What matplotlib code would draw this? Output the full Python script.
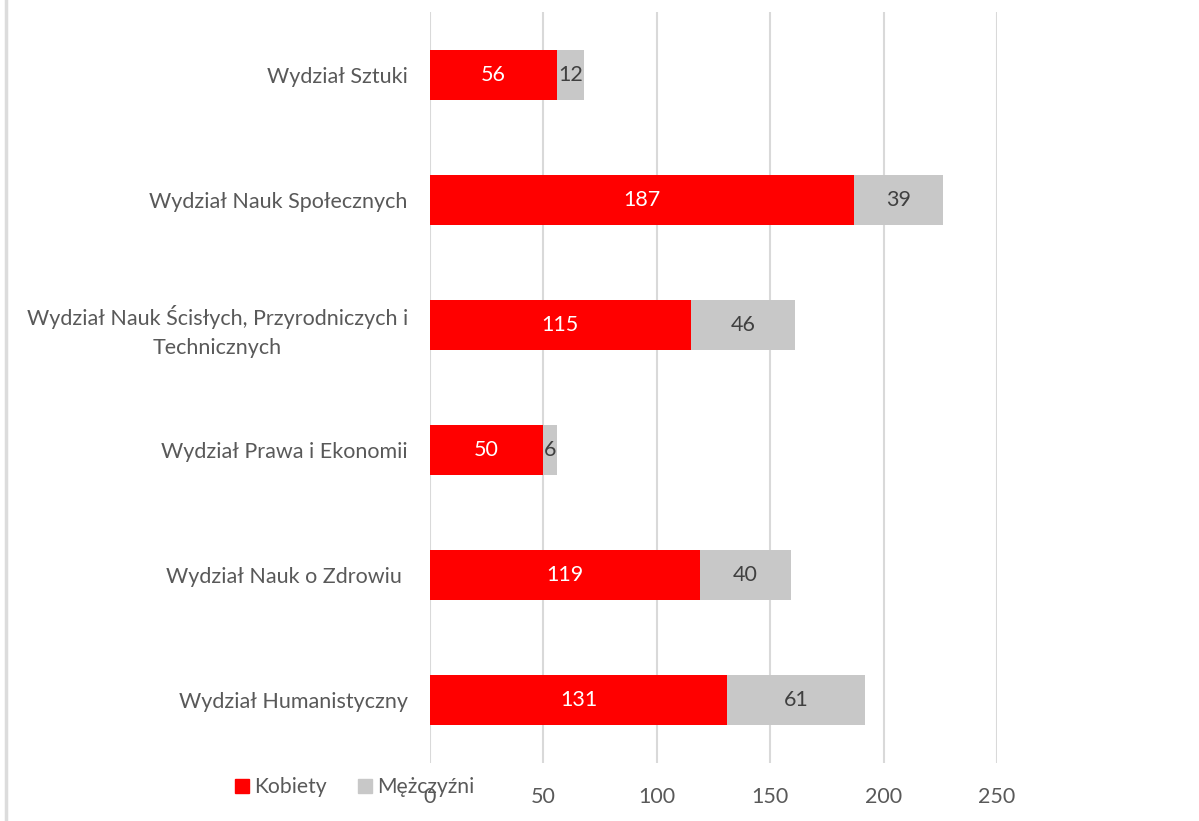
import matplotlib.pyplot as plt
from matplotlib.lines import Line2D

# Data
wydzialy = ['Wydział Humanistyczny', 'Wydział Nauk o Zdrowiu ', 'Wydział Prawa i Ekonomii',
            'Wydział Nauk Ścisłych, Przyrodniczych i\nTechnicznych',
            'Wydział Nauk Społecznych', 'Wydział Sztuki']
kobiety = [131, 119, 50, 115, 187, 56]
mezczyzni = [61, 40, 6, 46, 39, 12]
xticks = [0, 50, 100, 150, 200, 250]

plt.rcParams['font.family'] = ['Lato', 'DejaVu Sans']
txt = '#595959'

fig = plt.figure(figsize=(11.99, 8.21), dpi=100)
ax = fig.add_axes([430 / 1199, 1 - 763 / 821, (997 - 430) / 1199, (763 - 12) / 821])

y = range(len(wydzialy))
b1 = ax.barh(y, kobiety, height=0.4, color='#ff0000', label='Kobiety')
b2 = ax.barh(y, mezczyzni, left=kobiety, height=0.4, color='#c8c8c8', label='Mężczyźni')
ax.bar_label(b1, label_type='center', color='white', fontsize=15.5)
ax.bar_label(b2, label_type='center', color='#404040', fontsize=15.5)

ax.set_xlim(0, 250)
ax.set_ylim(-0.5, len(wydzialy) - 0.5)
ax.set_xticks(xticks)
ax.set_yticks(list(y))
ax.set_yticklabels(wydzialy, multialignment='center', linespacing=1.55)
ax.tick_params(axis='both', length=0, labelsize=15.5, labelcolor=txt)
ax.tick_params(axis='y', pad=16)
ax.tick_params(axis='x', pad=17)
ax.grid(axis='x', color='#d9d9d9', linewidth=1.5)
ax.set_axisbelow(True)
for s in ax.spines.values():
    s.set_visible(False)

# legend below the plot
handles = [Line2D([], [], marker='s', linestyle='none', color='#ff0000', markersize=10),
           Line2D([], [], marker='s', linestyle='none', color='#c8c8c8', markersize=10)]
fig.legend(handles, ['Kobiety', 'Mężczyźni'], loc='center left', bbox_to_anchor=(212 / 1199, 1 - 787 / 821),
           ncol=2, frameon=False, fontsize=15.2, labelcolor=txt, handletextpad=0.1, columnspacing=1.3,
           handlelength=1.0)

# left border line
fig.add_artist(Line2D([6 / 1199, 6 / 1199], [0, 1], color='#dcdcdc', linewidth=2.5))

fig.savefig('out.png', dpi=100)
